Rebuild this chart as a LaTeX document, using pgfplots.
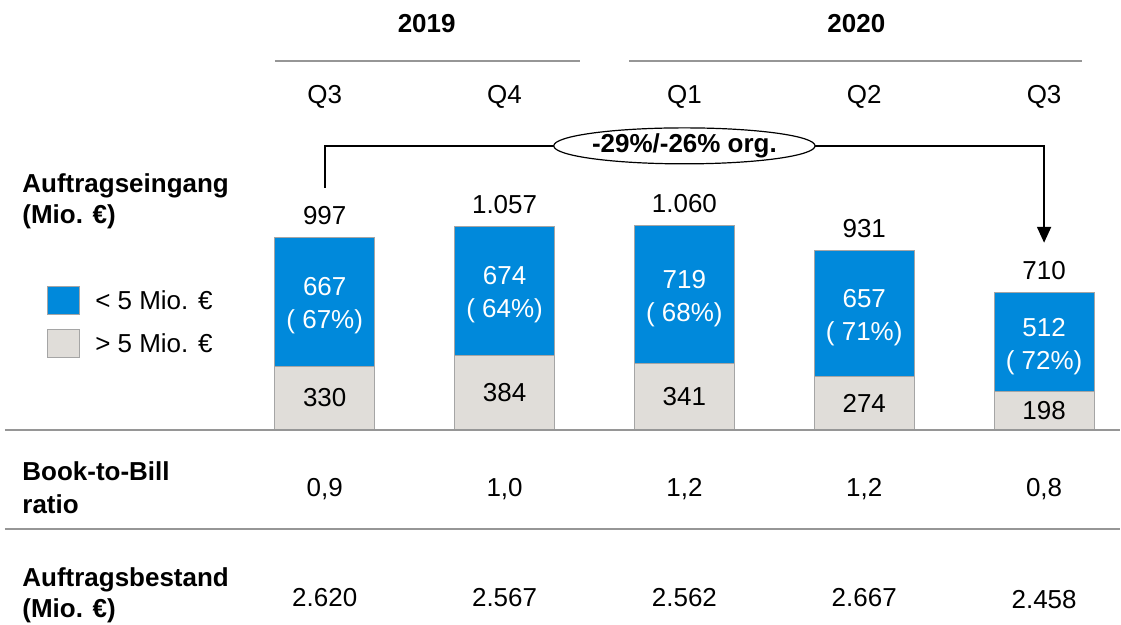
\documentclass[border=0pt]{standalone}
\usepackage{fontspec}
\setmainfont{Liberation Sans}
\usepackage{pgfplots}
\pgfplotsset{compat=1.18}
\usetikzlibrary{arrows.meta,shapes.geometric}
\definecolor{bluec}{RGB}{0,137,219}
\definecolor{greyc}{RGB}{224,221,217}
\definecolor{edgec}{RGB}{165,165,165}
\definecolor{rulec}{RGB}{150,150,150}
\begin{document}
\begin{tikzpicture}[font=\fontsize{13}{15.5}\selectfont]
\begin{axis}[at={(0,0)}, anchor=south west,
  width=560.5pt, height=312.5pt, scale only axis,
  xmin=-1.8056, xmax=4.4222, ymin=-1012.5, ymax=2232.6,
  axis lines=none, clip=false,
  ybar stacked, bar width=50pt]
\path (axis cs:-1.8056,-1012.5) rectangle (axis cs:4.4222,2232.6);
\addplot[fill=greyc, draw=edgec, line width=0.5pt] coordinates {(0,330) (1,384) (2,341) (3,274) (4,198)};
\addplot[fill=bluec, draw=edgec, line width=0.5pt] coordinates {(0,667) (1,674) (2,719) (3,657) (4,512)};
% coordinates for annotations
\coordinate (r1a) at (axis cs:-1.778,0);
\coordinate (r1b) at (axis cs:4.4222,0);
\coordinate (r2a) at (axis cs:-1.778,-519);
\coordinate (r2b) at (axis cs:4.4222,-519);
\coordinate (t1a) at (axis cs:-0.2778,1916);
\coordinate (t1b) at (axis cs:1.4167,1916);
\coordinate (t2a) at (axis cs:1.6944,1916);
\coordinate (t2b) at (axis cs:4.2111,1916);
\coordinate (y19) at (axis cs:0.567,2108);
\coordinate (y20) at (axis cs:2.956,2108);
\coordinate (q0) at (axis cs:0,1729);
\coordinate (q1) at (axis cs:1,1729);
\coordinate (q2) at (axis cs:2,1729);
\coordinate (q3) at (axis cs:3,1729);
\coordinate (q4) at (axis cs:4,1729);
\coordinate (lab1) at (axis cs:-1.683,1186);
\coordinate (lab2) at (axis cs:-1.683,-303.7);
\coordinate (lab3) at (axis cs:-1.683,-859);
\coordinate (legb) at (axis cs:-1.45,669.8);
\coordinate (legg) at (axis cs:-1.45,446.5);
\coordinate (legbt) at (axis cs:-1.278,669.8);
\coordinate (leggt) at (axis cs:-1.278,446.5);
\coordinate (s0) at (axis cs:0,997);
\coordinate (s1) at (axis cs:1,1057);
\coordinate (s2) at (axis cs:2,1060);
\coordinate (s3) at (axis cs:3,931);
\coordinate (s4) at (axis cs:4,710);
\coordinate (b0) at (axis cs:0,663.5);
\coordinate (b1) at (axis cs:1,721);
\coordinate (b2) at (axis cs:2,700.5);
\coordinate (b3) at (axis cs:3,602.5);
\coordinate (b4) at (axis cs:4,454);
\coordinate (g0) at (axis cs:0,165);
\coordinate (g1) at (axis cs:1,192);
\coordinate (g2) at (axis cs:2,170.5);
\coordinate (g3) at (axis cs:3,137);
\coordinate (g4) at (axis cs:4,99);
\coordinate (k0) at (axis cs:0,-311.5);
\coordinate (k1) at (axis cs:1,-311.5);
\coordinate (k2) at (axis cs:2,-311.5);
\coordinate (k3) at (axis cs:3,-311.5);
\coordinate (k4) at (axis cs:4,-311.5);
\coordinate (o0) at (axis cs:0,-872);
\coordinate (o1) at (axis cs:1,-872);
\coordinate (o2) at (axis cs:2,-872);
\coordinate (o3) at (axis cs:3,-872);
\coordinate (o4) at (axis cs:4,-882);
\coordinate (arA) at (axis cs:0,1256);
\coordinate (arB) at (axis cs:4,1474.5);
\coordinate (arC) at (axis cs:4,971);
\coordinate (ell) at (axis cs:2,1474.5);
\end{axis}
% rules
\draw[rulec, line width=1pt] (r1a) -- (r1b);
\draw[rulec, line width=1pt] (r2a) -- (r2b);
\draw[rulec, line width=1pt] (t1a) -- (t1b);
\draw[rulec, line width=1pt] (t2a) -- (t2b);
% headers
\node[font=\fontsize{13}{15.5}\selectfont\bfseries] at (y19) {2019};
\node[font=\fontsize{13}{15.5}\selectfont\bfseries] at (y20) {2020};
\node at (q0) {Q3};
\node at (q1) {Q4};
\node at (q2) {Q1};
\node at (q3) {Q2};
\node at (q4) {Q3};
% left labels
\node[anchor=west, align=left, inner sep=0pt, font=\fontsize{13}{15.5}\selectfont\bfseries] at (lab1) {Auftragseingang\\(Mio. €)};
\node[anchor=west, align=left, inner sep=0pt, font=\fontsize{13}{16.5}\selectfont\bfseries] at (lab2) {Book-to-Bill\\ratio};
\node[anchor=west, align=left, inner sep=0pt, font=\fontsize{13}{15.5}\selectfont\bfseries] at (lab3) {Auftragsbestand\\(Mio. €)};
% legend
\node[draw=edgec, fill=bluec, minimum width=16pt, minimum height=14pt, inner sep=0pt, line width=0.5pt] at (legb) {};
\node[draw=edgec, fill=greyc, minimum width=16pt, minimum height=14pt, inner sep=0pt, line width=0.5pt] at (legg) {};
\node[anchor=west, inner sep=0pt] at (legbt) {< 5 Mio. €};
\node[anchor=west, inner sep=0pt] at (leggt) {> 5 Mio. €};
% totals
\node[yshift=11pt] at (s0) {997};
\node[yshift=11pt] at (s1) {1.057};
\node[yshift=11pt] at (s2) {1.060};
\node[yshift=11pt] at (s3) {931};
\node[yshift=11pt] at (s4) {710};
% blue labels
\tikzset{bl/.style={white, align=center, yshift=-2pt, font=\fontsize{13}{16.5}\selectfont}}
\node[bl] at (b0) {667\\( 67\%)};
\node[bl] at (b1) {674\\( 64\%)};
\node[bl] at (b2) {719\\( 68\%)};
\node[bl] at (b3) {657\\( 71\%)};
\node[bl] at (b4) {512\\( 72\%)};
% grey labels
\node at (g0) {330};
\node at (g1) {384};
\node at (g2) {341};
\node at (g3) {274};
\node at (g4) {198};
% book-to-bill
\node at (k0) {0,9};
\node at (k1) {1,0};
\node at (k2) {1,2};
\node at (k3) {1,2};
\node at (k4) {0,8};
% backlog
\node at (o0) {2.620};
\node at (o1) {2.567};
\node at (o2) {2.562};
\node at (o3) {2.667};
\node at (o4) {2.458};
% arrow
\draw[line width=1pt, -{Triangle[width=7pt,length=8pt]}] (arA) |- (arB) -- (arC);
\node[ellipse, draw, fill=white, line width=0.6pt, minimum width=130pt, minimum height=18pt, inner sep=0pt, font=\fontsize{13}{15.5}\selectfont\bfseries] at (ell) {-29\%/-26\% org.};
\end{tikzpicture}
\end{document}
